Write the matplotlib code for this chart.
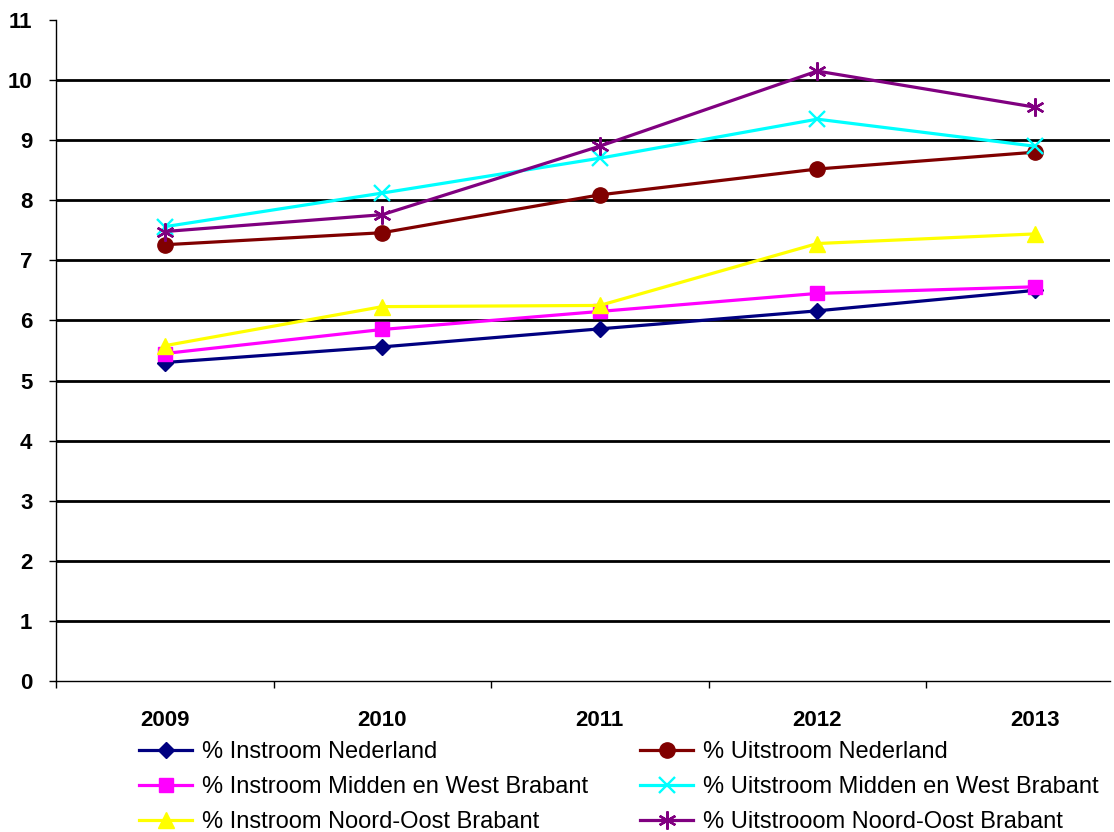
import matplotlib
matplotlib.use("Agg")
import matplotlib.pyplot as plt

plt.rcParams["font.family"] = ["Liberation Sans", "DejaVu Sans"]

YEARS = ["2009", "2010", "2011", "2012", "2013"]

INSTROOM_NL = [5.30, 5.56, 5.86, 6.16, 6.50]
UITSTROOM_NL = [7.26, 7.46, 8.09, 8.52, 8.80]
INSTROOM_MWB = [5.45, 5.85, 6.15, 6.45, 6.56]
UITSTROOM_MWB = [7.56, 8.12, 8.70, 9.35, 8.90]
INSTROOM_NOB = [5.58, 6.23, 6.25, 7.28, 7.44]
UITSTROOM_NOB = [7.48, 7.76, 8.90, 10.15, 9.55]

# (label, values, colour, marker, markersize)
SERIES_LEFT = [
    ("% Instroom Nederland", INSTROOM_NL, "#000080", "D", 8),
    ("% Instroom Midden en West Brabant", INSTROOM_MWB, "#FF00FF", "s", 10),
    ("% Instroom Noord-Oost Brabant", INSTROOM_NOB, "#FFFF00", "^", 11),
]
SERIES_RIGHT = [
    ("% Uitstroom Nederland", UITSTROOM_NL, "#800000", "o", 11),
    ("% Uitstroom Midden en West Brabant", UITSTROOM_MWB, "#00FFFF", "x", 11),
    ("% Uitstrooom Noord-Oost Brabant", UITSTROOM_NOB, "#800080", (6, 2, 0), 13),
]

fig = plt.figure(figsize=(11.14, 8.32), dpi=100)
ax = fig.add_axes([56 / 1114, 1 - 681 / 832, (1110 - 56) / 1114, (681 - 20) / 832])

x = list(range(len(YEARS)))
for level in range(1, 11):
    ax.axhline(level, color="black", linewidth=2.0, zorder=1)

handles = {}
plot_order = SERIES_LEFT[:1] + SERIES_RIGHT[:1] + SERIES_LEFT[1:2] + SERIES_RIGHT[1:2] + SERIES_LEFT[2:] + SERIES_RIGHT[2:]
for label, values, color, marker, ms in plot_order:
    mew = 1.7 if marker in ("x", (6, 2, 0)) else 1.0
    (line,) = ax.plot(x, values, color=color, linewidth=2.3, marker=marker,
                      markersize=ms, markeredgecolor=color, markerfacecolor=color,
                      markeredgewidth=mew, zorder=3, clip_on=False)
    handles[label] = line

ax.set_xlim(-0.5, -0.5 + (1110 - 56) / 217.5)
ax.set_ylim(0, 11)
ax.set_yticks(range(0, 12))
ax.tick_params(axis="y", direction="out", length=5, width=1, pad=12, labelsize=16)
for t in ax.get_yticklabels():
    t.set_fontweight("bold")

ax.set_xticks([i - 0.5 for i in range(len(YEARS))])
ax.set_xticklabels([])
ax.tick_params(axis="x", which="major", direction="out", length=5, width=1)
ax.set_xticks(x, minor=True)
ax.set_xticklabels(YEARS, minor=True, fontsize=16, fontweight="bold")
ax.tick_params(axis="x", which="minor", length=0, pad=21)

for side in ("top", "right"):
    ax.spines[side].set_visible(False)
for side in ("left", "bottom"):
    ax.spines[side].set_linewidth(1.0)
    ax.spines[side].set_color("black")

for series, x0 in ((SERIES_LEFT, 139 / 1114), (SERIES_RIGHT, 640 / 1114)):
    fig.legend([handles[s[0]] for s in series], [s[0] for s in series],
               loc="upper left", bbox_to_anchor=(x0, 1 - 741 / 832),
               frameon=False, borderpad=0, borderaxespad=0,
               handlelength=2.25, handletextpad=0.4, labelspacing=0.56,
               fontsize=17, numpoints=1)

fig.savefig("out.png", dpi=100)
